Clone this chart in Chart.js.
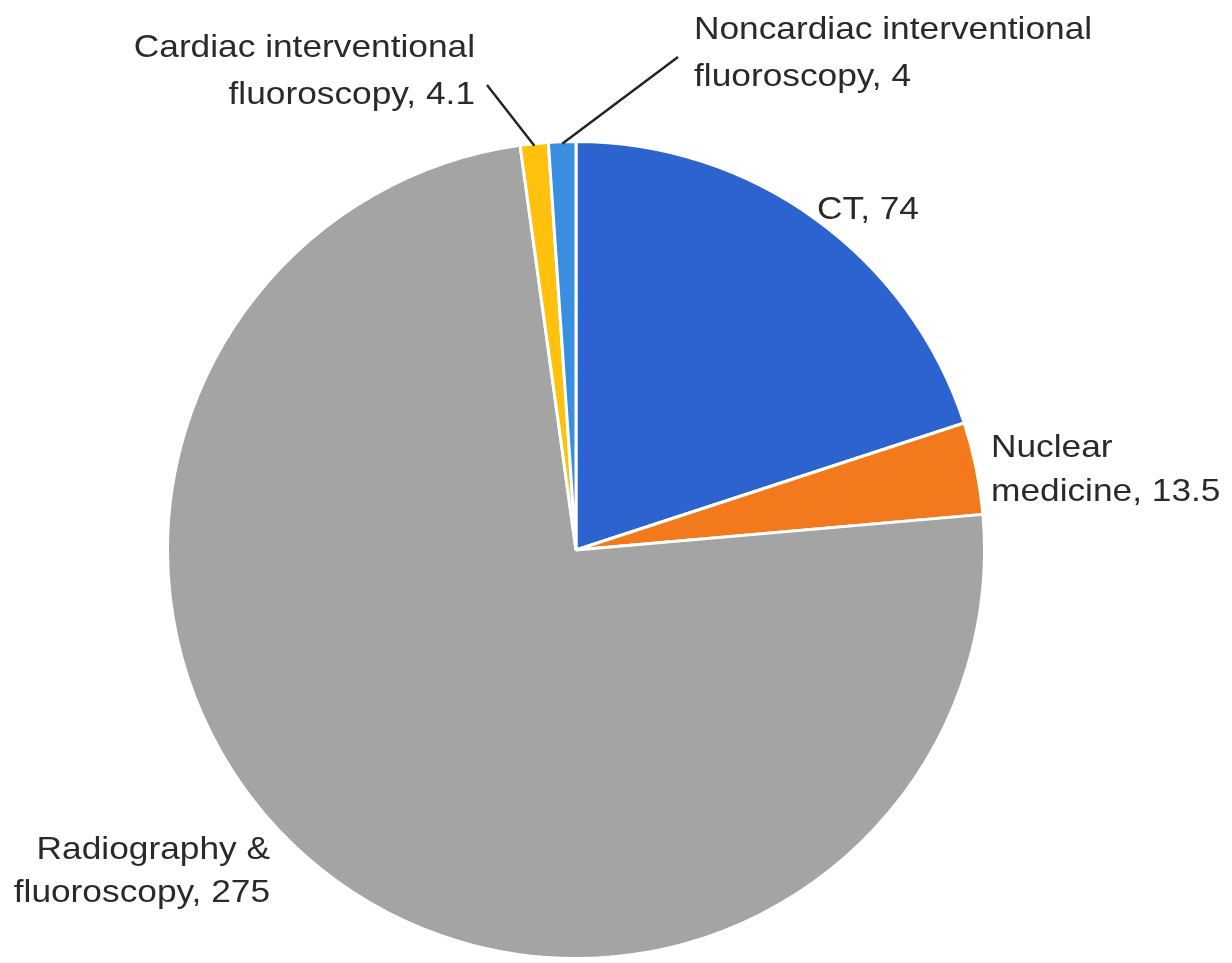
<!DOCTYPE html>
<html>
<head>
<meta charset="utf-8">
<script src="https://cdn.jsdelivr.net/npm/chart.js@4.4.1/dist/chart.umd.min.js"></script>
<style>
html,body{margin:0;padding:0;background:#fff;}
#wrap{width:1232px;height:963px;position:relative;}
</style>
</head>
<body>
<div id="wrap"><canvas id="c" width="1232" height="963"></canvas></div>
<script>
const categories = ["CT", "Nuclear medicine", "Radiography & fluoroscopy", "Cardiac interventional fluoroscopy", "Noncardiac interventional fluoroscopy"];
const values = [74, 13.5, 275, 4.1, 4];
const valueLabels = ["74", "13.5", "275", "4.1", "4"];
const labelLines = [
  ["CT, 74"],
  ["Nuclear", "medicine, 13.5"],
  ["Radiography &", "fluoroscopy, 275"],
  ["Cardiac interventional", "fluoroscopy, 4.1"],
  ["Noncardiac interventional", "fluoroscopy, 4"]
];
const colors = ["#2D63CF", "#F37A1C", "#A4A4A4", "#FEC10E", "#3A8EDF"];

// label layout (text anchor, alignment, line gap, optional leader end)
const labelLayout = [
  {x: 868, y: 210, align: "center", gap: 46},
  {x: 991, y: 448, align: "left", gap: 44},
  {x: 270, y: 850, align: "right", gap: 43},
  {x: 475, y: 48, align: "right", gap: 47, leader: [487, 85]},
  {x: 694, y: 30, align: "left", gap: 47, leader: [678, 57]}
];

const labelPlugin = {
  id: "sliceLabels",
  afterDraw(chart) {
    const ctx = chart.ctx;
    const meta = chart.getDatasetMeta(0);
    ctx.save();
    meta.data.forEach((arc, i) => {
      const L = labelLayout[i];
      if (L.leader) {
        const p = arc.getProps(["x", "y", "startAngle", "endAngle", "outerRadius"], true);
        const mid = (p.startAngle + p.endAngle) / 2;
        const sx = p.x + Math.cos(mid) * (p.outerRadius - 2);
        const sy = p.y + Math.sin(mid) * (p.outerRadius - 2);
        ctx.beginPath();
        ctx.moveTo(sx, sy);
        ctx.lineTo(L.leader[0], L.leader[1]);
        ctx.strokeStyle = "#222";
        ctx.lineWidth = 2.4;
        ctx.stroke();
      }
      ctx.fillStyle = "#2a2a2a";
      ctx.font = "31.5px 'Liberation Sans', Arial, sans-serif";
      ctx.textBaseline = "middle";
      ctx.textAlign = L.align;
      labelLines[i].forEach((line, k) => {
        ctx.save();
        ctx.translate(L.x, L.y + k * L.gap);
        ctx.scale(1.12, 1);
        ctx.fillText(line, 0, 0);
        ctx.restore();
      });
    });
    ctx.restore();
  }
};

new Chart(document.getElementById("c"), {
  type: "pie",
  data: {
    labels: categories,
    datasets: [{
      data: values,
      backgroundColor: colors,
      borderColor: "#ffffff",
      borderWidth: 3
    }]
  },
  options: {
    responsive: false,
    animation: false,
    layout: {padding: {left: 166, right: 246, top: 140, bottom: 3}},
    plugins: {legend: {display: false}, tooltip: {enabled: false}}
  },
  plugins: [labelPlugin]
});
</script>
</body>
</html>
